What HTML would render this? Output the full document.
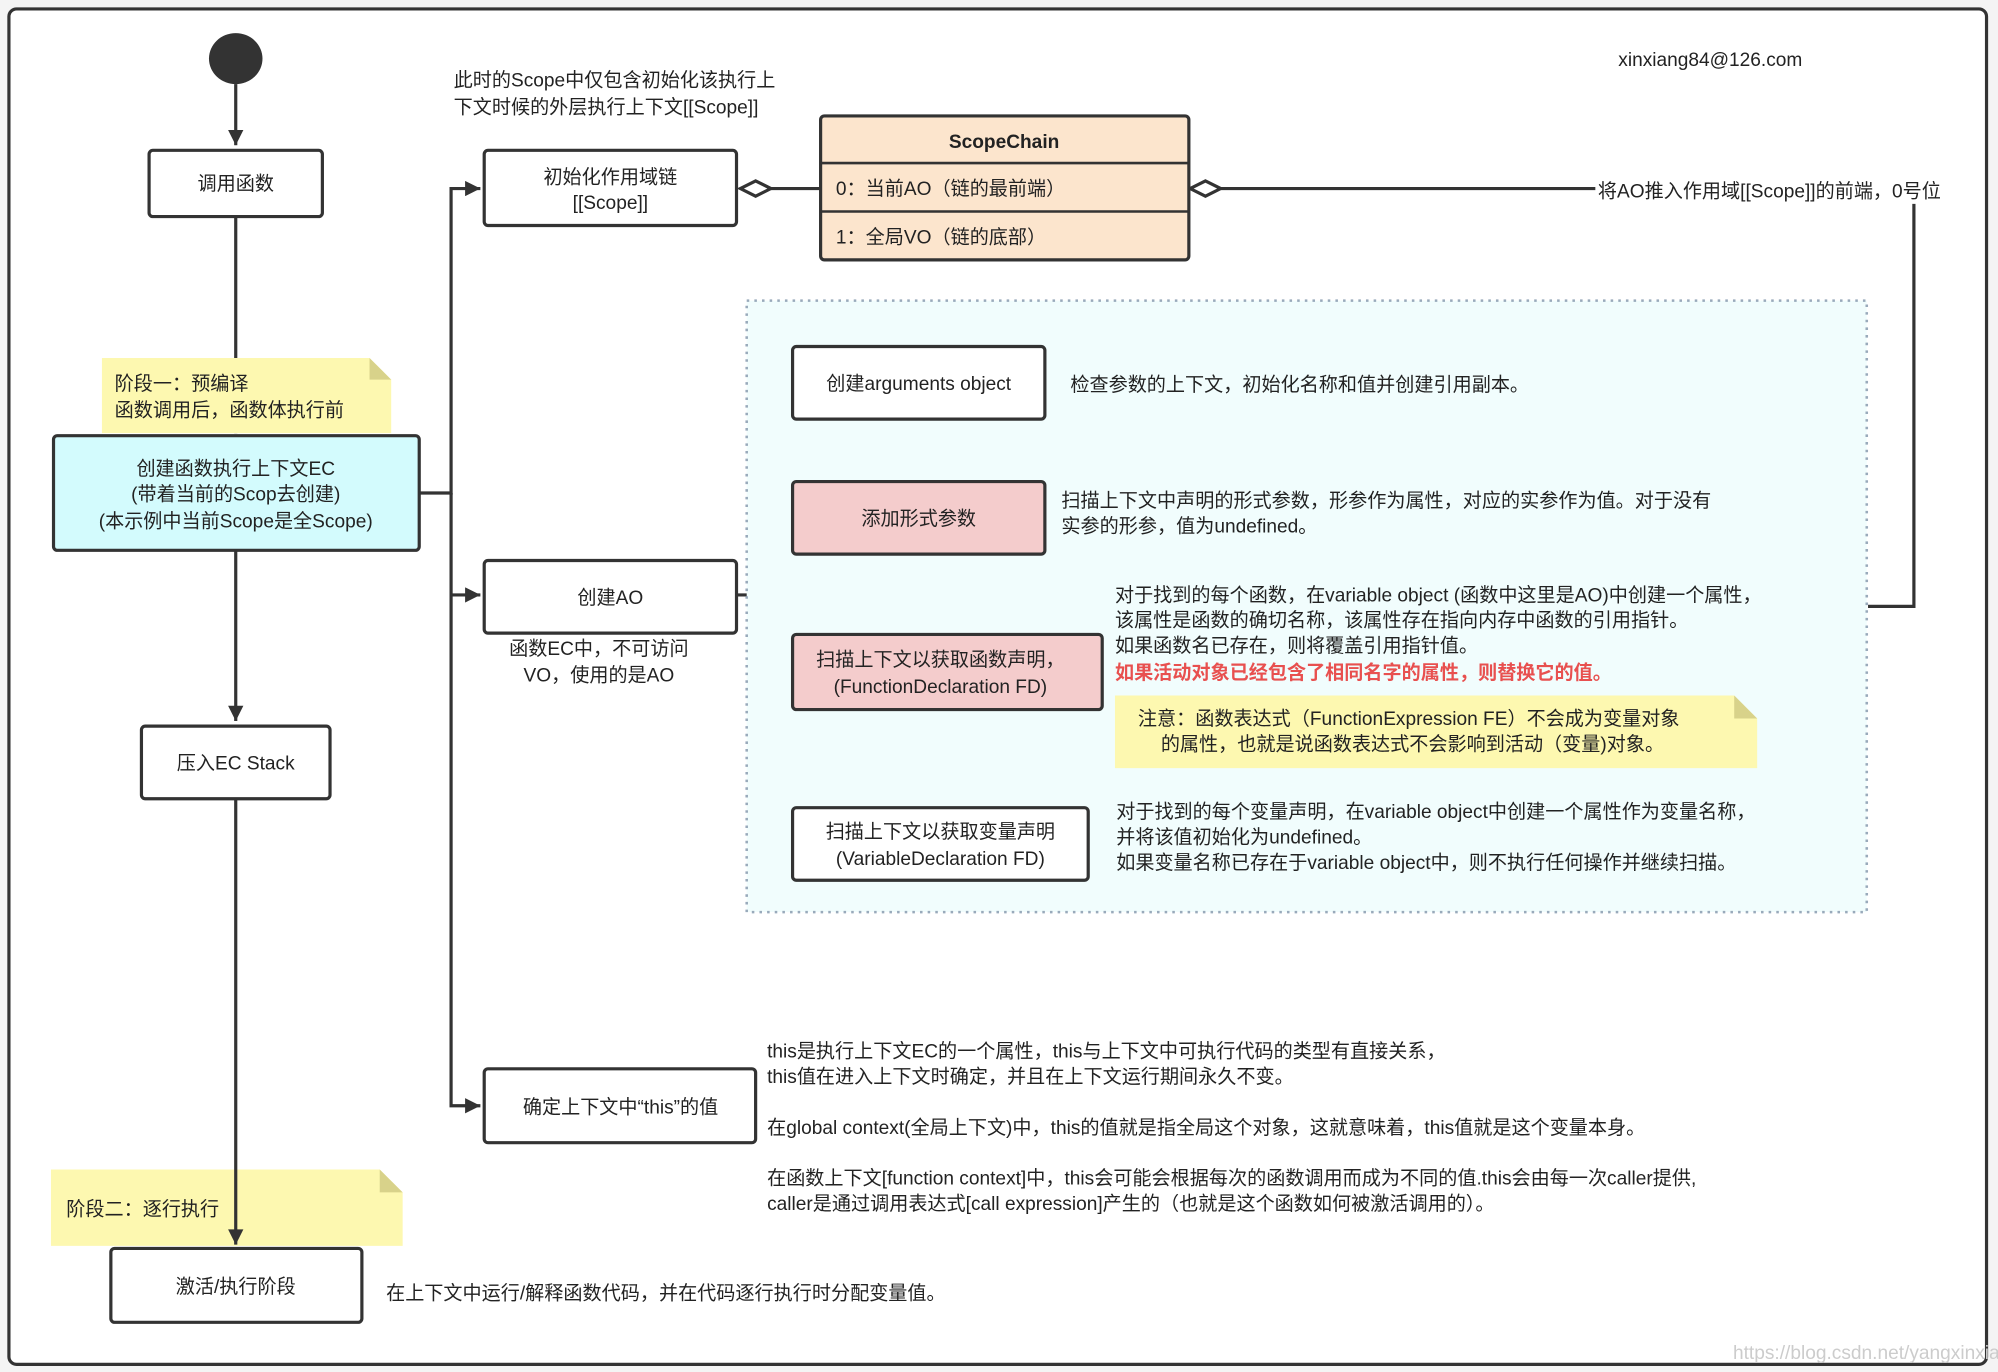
<!DOCTYPE html>
<html><head><meta charset="utf-8"><style>
html,body{margin:0;padding:0;background:#f4f4f4}
svg{display:block}
text{font-family:"Liberation Sans","Noto Sans CJK SC",sans-serif;font-size:15px;fill:#222}
</style></head><body>
<svg width="1998" height="1372" viewBox="0 0 1568 1077" preserveAspectRatio="none" xmlns="http://www.w3.org/2000/svg">
<defs>
<marker id="a" viewBox="0 0 10 10" refX="10" refY="5" markerWidth="7" markerHeight="7" orient="auto" markerUnits="userSpaceOnUse"><path d="M0,0 L10,5 L0,10 z" fill="#333"/></marker>
<marker id="b" viewBox="0 0 10 10" refX="10" refY="5" markerWidth="14" markerHeight="12" orient="auto" markerUnits="userSpaceOnUse"><path d="M0,0 L10,5 L0,10 z" fill="#333"/></marker>
</defs>
<rect x="7" y="7" width="1552" height="1064" rx="6" fill="#fff" stroke="#333" stroke-width="2.5"/>
<text x="1270" y="52" font-size="15">xinxiang84@126.com</text>
<!-- start -->
<ellipse cx="185" cy="46" rx="21" ry="20" fill="#333"/>
<g stroke="#333" stroke-width="2.5" fill="none">
<line x1="185" y1="66" x2="185" y2="114" marker-end="url(#b)"/>
<line x1="185" y1="170" x2="185" y2="340" marker-end="url(#b)"/>
<line x1="185" y1="432" x2="185" y2="566" marker-end="url(#b)"/>
<line x1="185" y1="627" x2="185" y2="977" marker-end="url(#b)"/>
<path d="M329,387 H354 V148 H377" marker-end="url(#b)"/>
<path d="M354,387 V868 H377" marker-end="url(#b)"/>
<line x1="354" y1="467" x2="377" y2="467" marker-end="url(#b)"/>
<path d="M579,467 H601 V299 H620" marker-end="url(#b)"/>
<path d="M601,299 V662 H620" marker-end="url(#b)"/>
<line x1="601" y1="406" x2="620" y2="406" marker-end="url(#b)"/>
<line x1="601" y1="526" x2="620" y2="526" marker-end="url(#b)"/>
<line x1="605" y1="148" x2="643" y2="148"/>
<line x1="958" y1="148" x2="1252" y2="148"/>
<path d="M1502,160 V476 H1466"/>
</g>
<path d="M581,148 L593,142 L605,148 L593,154 z" fill="#fff" stroke="#333" stroke-width="2.5"/>
<path d="M934,148 L946,142 L958,148 L946,154 z" fill="#fff" stroke="#333" stroke-width="2.5"/>
<text x="1254" y="155">将AO推入作用域[[Scope]]的前端，0号位</text>
<!-- left boxes -->
<rect x="117" y="118" width="136" height="52" rx="3" fill="#fff" stroke="#333" stroke-width="2.5"/>
<text x="185" y="149" text-anchor="middle">调用函数</text>
<path d="M80,281 H290 L307,298 V340 H80 z" fill="#fdf8b0"/>
<path d="M290,281 L307,298 H290 z" fill="#d8d28a"/>
<text x="90" y="306">阶段一：预编译</text>
<text x="90" y="327">函数调用后，函数体执行前</text>
<rect x="42" y="342" width="287" height="90" rx="3" fill="#d3fbfd" stroke="#333" stroke-width="2.5"/>
<text x="185" y="373" text-anchor="middle">创建函数执行上下文EC</text>
<text x="185" y="393" text-anchor="middle">(带着当前的Scop去创建)</text>
<text x="185" y="414" text-anchor="middle">(本示例中当前Scope是全Scope)</text>
<rect x="111" y="570" width="148" height="57" rx="3" fill="#fff" stroke="#333" stroke-width="2.5"/>
<text x="185" y="604" text-anchor="middle">压入EC Stack</text>
<path d="M40,918 H298 L316,936 V978 H40 z" fill="#fdf8b0"/>
<path d="M298,918 L316,936 H298 z" fill="#d8d28a"/>
<text x="52" y="954">阶段二：逐行执行</text>
<line x1="185" y1="918" x2="185" y2="977" stroke="#333" stroke-width="2.5" marker-end="url(#b)"/>
<rect x="87" y="980" width="197" height="58" rx="3" fill="#fff" stroke="#333" stroke-width="2.5"/>
<text x="185" y="1015" text-anchor="middle">激活/执行阶段</text>
<text x="303" y="1020">在上下文中运行/解释函数代码，并在代码逐行执行时分配变量值。</text>
<!-- middle -->
<text x="356" y="68">此时的Scope中仅包含初始化该执行上</text>
<text x="356" y="89">下文时候的外层执行上下文[[Scope]]</text>
<rect x="380" y="118" width="198" height="59" rx="3" fill="#fff" stroke="#333" stroke-width="2.5"/>
<text x="479" y="144" text-anchor="middle">初始化作用域链</text>
<text x="479" y="164" text-anchor="middle">[[Scope]]</text>
<rect x="644" y="91" width="289" height="113" rx="3" fill="#fce5cd" stroke="#333" stroke-width="2.5"/>
<line x1="644" y1="128" x2="933" y2="128" stroke="#333" stroke-width="2"/>
<line x1="644" y1="166" x2="933" y2="166" stroke="#333" stroke-width="2"/>
<text x="788" y="116" text-anchor="middle" font-weight="bold">ScopeChain</text>
<text x="656" y="153">0：当前AO（链的最前端）</text>
<text x="656" y="191">1：全局VO（链的底部）</text>
<rect x="380" y="440" width="198" height="57" rx="3" fill="#fff" stroke="#333" stroke-width="2.5"/>
<text x="479" y="474" text-anchor="middle">创建AO</text>
<text x="470" y="514" text-anchor="middle">函数EC中，不可访问</text>
<text x="470" y="535" text-anchor="middle">VO，使用的是AO</text>
<rect x="380" y="839" width="213" height="58" rx="3" fill="#fff" stroke="#333" stroke-width="2.5"/>
<text x="487" y="874" text-anchor="middle">确定上下文中“this”的值</text>
<text x="602" y="830">this是执行上下文EC的一个属性，this与上下文中可执行代码的类型有直接关系，</text>
<text x="602" y="850">this值在进入上下文时确定，并且在上下文运行期间永久不变。</text>
<text x="602" y="890">在global context(全局上下文)中，this的值就是指全局这个对象，这就意味着，this值就是这个变量本身。</text>
<text x="602" y="930">在函数上下文[function context]中，this会可能会根据每次的函数调用而成为不同的值.this会由每一次caller提供,</text>
<text x="602" y="950">caller是通过调用表达式[call expression]产生的（也就是这个函数如何被激活调用的）。</text>
<!-- dashed region -->
<rect x="586" y="236" width="879" height="480" fill="#f1fdfd" stroke="#9ab" stroke-width="2" stroke-dasharray="2,4"/>
<rect x="622" y="272" width="198" height="57" rx="3" fill="#fff" stroke="#333" stroke-width="2.5"/>
<text x="721" y="306" text-anchor="middle">创建arguments object</text>
<text x="840" y="307">检查参数的上下文，初始化名称和值并创建引用副本。</text>
<rect x="622" y="378" width="198" height="57" rx="3" fill="#f4cccc" stroke="#333" stroke-width="2.5"/>
<text x="721" y="412" text-anchor="middle">添加形式参数</text>
<text x="833" y="398">扫描上下文中声明的形式参数，形参作为属性，对应的实参作为值。对于没有</text>
<text x="833" y="418">实参的形参，值为undefined。</text>
<rect x="622" y="498" width="243" height="59" rx="3" fill="#f4cccc" stroke="#333" stroke-width="2.5"/>
<text x="738" y="523" text-anchor="middle">扫描上下文以获取函数声明，</text>
<text x="738" y="544" text-anchor="middle">(FunctionDeclaration FD)</text>
<text x="875" y="472">对于找到的每个函数，在variable object (函数中这里是AO)中创建一个属性，</text>
<text x="875" y="492">该属性是函数的确切名称，该属性存在指向内存中函数的引用指针。</text>
<text x="875" y="512">如果函数名已存在，则将覆盖引用指针值。</text>
<text x="875" y="533" font-weight="bold" style="fill:#e8504f">如果活动对象已经包含了相同名字的属性，则替换它的值。</text>
<path d="M875,546 H1361 L1379,564 V603 H875 z" fill="#fdf8b0"/>
<path d="M1361,546 L1379,564 H1361 z" fill="#d8d28a"/>
<text x="893" y="569">注意：函数表达式（FunctionExpression FE）不会成为变量对象</text>
<text x="911" y="589">的属性，也就是说函数表达式不会影响到活动（变量)对象。</text>
<rect x="622" y="634" width="232" height="57" rx="3" fill="#fff" stroke="#333" stroke-width="2.5"/>
<text x="738" y="658" text-anchor="middle">扫描上下文以获取变量声明</text>
<text x="738" y="679" text-anchor="middle">(VariableDeclaration FD)</text>
<text x="876" y="642">对于找到的每个变量声明，在variable object中创建一个属性作为变量名称，</text>
<text x="876" y="662">并将该值初始化为undefined。</text>
<text x="876" y="682">如果变量名称已存在于variable object中，则不执行任何操作并继续扫描。</text>
<text x="1360" y="1067" font-size="12" style="fill:#ccc">https://blog.csdn.net/yangxinxiang84</text>
</svg>
</body></html>
